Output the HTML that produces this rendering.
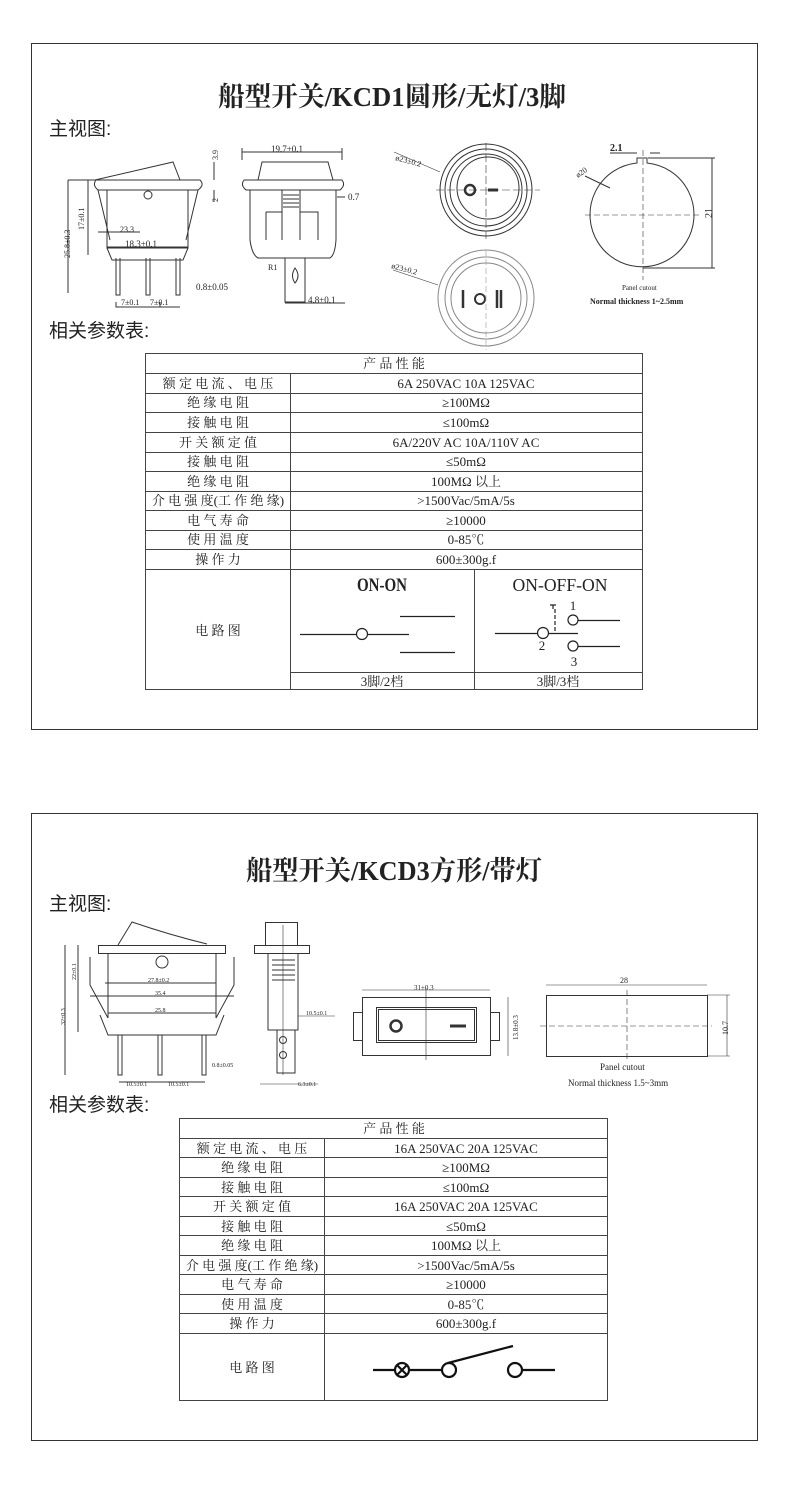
<!DOCTYPE html>
<html><head><meta charset="utf-8"><style>
html,body{margin:0;padding:0;background:#fff}
svg{display:block}
text{font-family:"Liberation Serif","Noto Serif CJK SC",serif;fill:#222}
.t{font-size:13px;text-anchor:middle}
.s{font-size:8px;fill:#333}
.h{font-family:"Liberation Sans","Noto Sans CJK SC",sans-serif;font-size:19px}
</style></head><body>
<svg width="790" height="1487" viewBox="0 0 790 1487" xmlns="http://www.w3.org/2000/svg">
<g fill="none" stroke="#333" stroke-width="1">
<rect x="31.5" y="43.5" width="726" height="686"/>
<rect x="31.5" y="813.5" width="726" height="627"/>
</g>
<!-- Panel 1 -->
<text x="392" y="106" font-size="27" text-anchor="middle" textLength="348" lengthAdjust="spacingAndGlyphs" style="font-family:'Liberation Serif','Noto Serif CJK SC',serif;font-weight:bold">船型开关/KCD1圆形/无灯/3脚</text>
<text x="49" y="135" class="h">主视图:</text>
<text x="49" y="337" class="h">相关参数表:</text>

<g fill="none" stroke="#333" stroke-width="1">
<path d="M95 180 Q130 172 173 162 L180 180"/>
<path d="M96 180 L200 180 Q205 185 198 190 L98 190 Q92 185 96 180Z"/>
<path d="M107 190 L107 248 L188 248 L188 190"/>
<path d="M98 190 L110 240 M198 190 L186 240"/>
<path d="M107 248 L112 260 L183 260 L188 248"/>
<circle cx="148" cy="195" r="4"/>
<path d="M116 258 V295 H120 V258 M146 258 V295 H150 V258 M176 258 V295 H180 V258"/>
<path d="M68 180 V293 M88 180 V255 M68 180 H95 M88 180 H95 M116 302 V307 H160 V302 M160 307 H180"/>
<path d="M98 232 H140 M107 247 H188 M214 162 V180 M214 190 V202"/>
<path d="M258 180 L262 162 L328 162 L333 180"/>
<path d="M244 180 H342 Q346 185 340 190 H246 Q240 185 244 180Z"/>
<path d="M250 190 V240 Q252 255 258 258 H330 Q335 255 336 240 V190"/>
<path d="M282 190 V240 M300 190 V240 M266 212 H282 V240 M300 212 H318 V240 M266 240 V212"/>
<path d="M283 195 H299 M283 199 H299 M283 203 H299 M283 207 H299"/>
<path d="M285 258 V302 H305 V258"/>
<path d="M295 268 Q290 276 295 283 Q301 276 295 268Z"/>
<path d="M242 152 H342 M242 148 V160 M342 148 V160 M337 197 H345 M285 303 H345"/>
<circle cx="486" cy="190" r="46"/>
<circle cx="486" cy="190" r="41"/>
<circle cx="486" cy="190" r="36"/>
<circle cx="488" cy="188" r="31"/>
<circle cx="470" cy="190" r="5" stroke-width="2.5"/>
<path d="M488 190 H498" stroke-width="3"/>
<path d="M486 143 V240 M436 190 H540" stroke-dasharray="8 3" stroke-width=".6"/>
<path d="M394 152 L440 172" stroke-width=".6"/>
<circle cx="486" cy="298" r="48" stroke="#888"/>
<circle cx="486" cy="298" r="41" stroke="#888"/>
<circle cx="486" cy="298" r="35" stroke="#888"/>
<path d="M463 290 V308 M497 290 V308 M501 290 V308" stroke-width="2.5"/>
<circle cx="480" cy="299" r="5" stroke-width="2"/>
<path d="M486 250 V350" stroke-dasharray="6 3" stroke-width=".6" stroke="#999"/>
<path d="M393 270 L438 285" stroke-width=".6"/>
<path d="M637 163 V158 H647 V163 A52 52 0 1 1 637 163Z"/>
<path d="M643 150 V280 M585 215 H700" stroke-dasharray="6 3" stroke-width=".6"/>
<path d="M648 158 H715 M643 268 H715 M712 158 V268"/>
<path d="M610 153 H637 M650 153 H660"/>
<path d="M585 176 L610 188"/>
</g>
<g class="s">
<text x="120" y="232">23.3</text>
<text x="125" y="247" font-size="9">18.3±0.1</text>
<text x="196" y="290" font-size="9">0.8±0.05</text>
<text x="121" y="305">7±0.1</text>
<text x="150" y="305">7±0.1</text>
<text x="271" y="152" font-size="9">19.7±0.1</text>
<text x="348" y="200" font-size="9">0.7</text>
<text x="268" y="270">R1</text>
<text x="308" y="303" font-size="9">4.8±0.1</text>
<text x="70" y="258" transform="rotate(-90 70 258)">25.8±0.3</text>
<text x="84" y="230" transform="rotate(-90 84 230)">17±0.1</text>
<text x="218" y="160" transform="rotate(-90 218 160)">3.9</text>
<text x="218" y="202" transform="rotate(-90 218 202)">2</text>
<text x="395" y="160" transform="rotate(15 395 160)">ø23±0.2</text>
<text x="391" y="268" transform="rotate(15 391 268)">ø23±0.2</text>
<text x="610" y="151" font-size="10" font-weight="bold">2.1</text>
<text x="578" y="178" transform="rotate(-35 578 178)">ø20</text>
<text x="712" y="218" transform="rotate(-90 712 218)" font-size="10">21</text>
<text x="622" y="290" font-size="7">Panel cutout</text>
<text x="590" y="304" font-size="8" font-weight="bold">Normal thickness 1~2.5mm</text>
</g>

<g fill="none" stroke="#444" stroke-width="1">
<rect x="145.5" y="353.5" width="497" height="336"/>
<path d="M145 373.5H643M145 393.5H643M145 412.5H643M145 432.5H643M145 452.5H643M145 471.5H643M145 491.5H643M145 510.5H643M145 530.5H643M145 549.5H643M145 569.5H643M290 672.5H643"/>
<path d="M290.5 373V690M474.5 569V690"/>
</g>
<g class="t">
<text x="394" y="368">产 品 性 能</text>
<text x="218" y="388">额 定 电 流 、 电 压</text><text x="466" y="388">6A 250VAC   10A 125VAC</text>
<text x="218" y="407">绝 缘 电 阻</text><text x="466" y="407">≥100MΩ</text>
<text x="218" y="427">接 触 电 阻</text><text x="466" y="427">≤100mΩ</text>
<text x="218" y="447">开 关 额 定 值</text><text x="466" y="447">6A/220V AC 10A/110V AC</text>
<text x="218" y="466">接 触 电 阻</text><text x="466" y="466">≤50mΩ</text>
<text x="218" y="486">绝 缘 电 阻</text><text x="466" y="486">100MΩ 以上</text>
<text x="218" y="505">介 电 强 度(工 作 绝 缘)</text><text x="466" y="505">&gt;1500Vac/5mA/5s</text>
<text x="218" y="525">电 气 寿 命</text><text x="466" y="525">≥10000</text>
<text x="218" y="544">使 用 温 度</text><text x="466" y="544">0-85℃</text>
<text x="218" y="564">操  作  力</text><text x="466" y="564">600±300g.f</text>
<text x="218" y="635">电 路 图</text>
<text x="382" y="686">3脚/2档</text><text x="558" y="686">3脚/3档</text>
<text x="382" y="591" font-size="19" font-weight="bold" textLength="50" lengthAdjust="spacingAndGlyphs">ON-ON</text>
<text x="560" y="591" font-size="18" textLength="95" lengthAdjust="spacingAndGlyphs">ON-OFF-ON</text>
<text x="573" y="610">1</text><text x="542" y="650">2</text><text x="574" y="666">3</text>
</g>
<g fill="none" stroke="#222" stroke-width="1.2">
<path d="M300 634.5H356M368 634.5H409M400 616.5H455M400 652.5H455"/>
<circle cx="362" cy="634" r="5.5" fill="#fff"/>
<path d="M495 633.5H537M549 633.5H578M578 620.5H620M578 646.5H620"/>
<circle cx="543" cy="633" r="5.5" fill="#fff"/>
<circle cx="573" cy="620" r="5" fill="#fff"/>
<circle cx="573" cy="646" r="5" fill="#fff"/>
<path d="M555 609V633" stroke-dasharray="4 2"/>
<path d="M550 605H556M553 605V609" />
</g>

<!-- Panel 2 -->
<text x="394" y="880" font-size="27" text-anchor="middle" textLength="296" lengthAdjust="spacingAndGlyphs" style="font-family:'Liberation Serif','Noto Serif CJK SC',serif;font-weight:bold">船型开关/KCD3方形/带灯</text>
<text x="49" y="910" class="h">主视图:</text>
<text x="49" y="1111" class="h">相关参数表:</text>
<g fill="none" stroke="#333" stroke-width="1">
<path d="M118 945 L132 922 Q170 935 207 944"/>
<rect x="98.5" y="945.5" width="127" height="8"/>
<path d="M108 953 V1018 M216 953 V1018"/>
<path d="M90 957 V985 L108 1018 M234 957 V985 L216 1018"/>
<path d="M100 1015 L108 1035 H216 L224 1015"/>
<circle cx="162" cy="962" r="6"/>
<path d="M118 1035V1075H122V1035M158 1035V1075H162V1035M202 1035V1075H206V1035"/>
<path d="M65 945V1075M78 945V1032M105 983H216M90 996H234M108 1013H216M119 1082H205"/>
<rect x="254.5" y="945.5" width="55" height="8"/>
<rect x="265.5" y="922.5" width="32" height="23"/>
<path d="M268 953V1030H298V953M272 960H295M272 965H295M272 970H295M272 975H295M272 980H295"/>
<path d="M277 1030V1073H295V1030"/>
<circle cx="283" cy="1040" r="3.5"/><circle cx="283" cy="1055" r="3.5"/>
<path d="M283 925V1075M260 1084H318M298 1016H335" stroke-width=".6"/>
<rect x="362.5" y="997.5" width="128" height="58"/>
<rect x="376.5" y="1007.5" width="100" height="35"/>
<rect x="378.5" y="1009.5" width="96" height="31"/>
<rect x="353.5" y="1012.5" width="9" height="28"/>
<rect x="490.5" y="1012.5" width="9" height="28"/>
<circle cx="396" cy="1026" r="5.5" stroke-width="2.5"/>
<path d="M450 1026H466" stroke-width="3"/>
<path d="M362 990H490M508 997V1056M426 988V1060" stroke-width=".6"/>
<rect x="546.5" y="995.5" width="161" height="61"/>
<path d="M627 990V1060M540 1026H712" stroke-dasharray="6 3" stroke-width=".6"/>
<path d="M546 985H707M707 995H730M707 1056H730M727 995V1056" stroke-width=".6"/>
</g>
<g class="s" font-size="6">
<text x="148" y="982" font-size="6">27.8±0.2</text>
<text x="155" y="995" font-size="6">35.4</text>
<text x="155" y="1012" font-size="6">25.8</text>
<text x="212" y="1067" font-size="6">0.8±0.05</text>
<text x="126" y="1086" font-size="6">10.5±0.1</text>
<text x="168" y="1086" font-size="6">10.5±0.1</text>
<text x="306" y="1015" font-size="6">10.5±0.1</text>
<text x="298" y="1086" font-size="6">6.3±0.1</text>
<text x="65" y="1025" transform="rotate(-90 65 1025)" font-size="6">32±0.3</text>
<text x="76" y="980" transform="rotate(-90 76 980)" font-size="6">22±0.1</text>
<text x="414" y="990" font-size="7">31±0.3</text>
<text x="620" y="983" font-size="8">28</text>
<text x="518" y="1040" transform="rotate(-90 518 1040)" font-size="7">13.8±0.3</text>
<text x="728" y="1035" transform="rotate(-90 728 1035)" font-size="8">10.7</text>
<text x="600" y="1070" font-size="9">Panel cutout</text>
<text x="568" y="1086" font-size="9">Normal thickness 1.5~3mm</text>
</g>

<g fill="none" stroke="#444" stroke-width="1">
<rect x="179.5" y="1118.5" width="428" height="282"/>
<path d="M179 1138.5H608M179 1157.5H608M179 1177.5H608M179 1196.5H608M179 1216.5H608M179 1235.5H608M179 1255.5H608M179 1274.5H608M179 1294.5H608M179 1313.5H608M179 1333.5H608"/>
<path d="M324.5 1138V1401"/>
</g>
<g class="t">
<text x="394" y="1133">产 品 性 能</text>
<text x="252" y="1153">额 定 电 流 、 电 压</text><text x="466" y="1153">16A 250VAC  20A 125VAC</text>
<text x="252" y="1172">绝 缘 电 阻</text><text x="466" y="1172">≥100MΩ</text>
<text x="252" y="1192">接 触 电 阻</text><text x="466" y="1192">≤100mΩ</text>
<text x="252" y="1211">开 关 额 定 值</text><text x="466" y="1211">16A 250VAC  20A 125VAC</text>
<text x="252" y="1231">接 触 电 阻</text><text x="466" y="1231">≤50mΩ</text>
<text x="252" y="1250">绝 缘 电 阻</text><text x="466" y="1250">100MΩ 以上</text>
<text x="252" y="1270">介 电 强 度(工 作 绝 缘)</text><text x="466" y="1270">&gt;1500Vac/5mA/5s</text>
<text x="252" y="1289">电 气 寿 命</text><text x="466" y="1289">≥10000</text>
<text x="252" y="1309">使 用 温 度</text><text x="466" y="1309">0-85℃</text>
<text x="252" y="1328">操  作  力</text><text x="466" y="1328">600±300g.f</text>
<text x="252" y="1372">电 路 图</text>
</g>
<g fill="none" stroke="#111" stroke-width="2.2">
<path d="M373 1370H395M409 1370H442M522 1370H555M448 1363L513 1346"/>
<circle cx="402" cy="1370" r="7"/>
<path d="M397 1365L407 1375M407 1365L397 1375"/>
<circle cx="449" cy="1370" r="7"/>
<circle cx="515" cy="1370" r="7"/>
</g>
</svg>
</body></html>
